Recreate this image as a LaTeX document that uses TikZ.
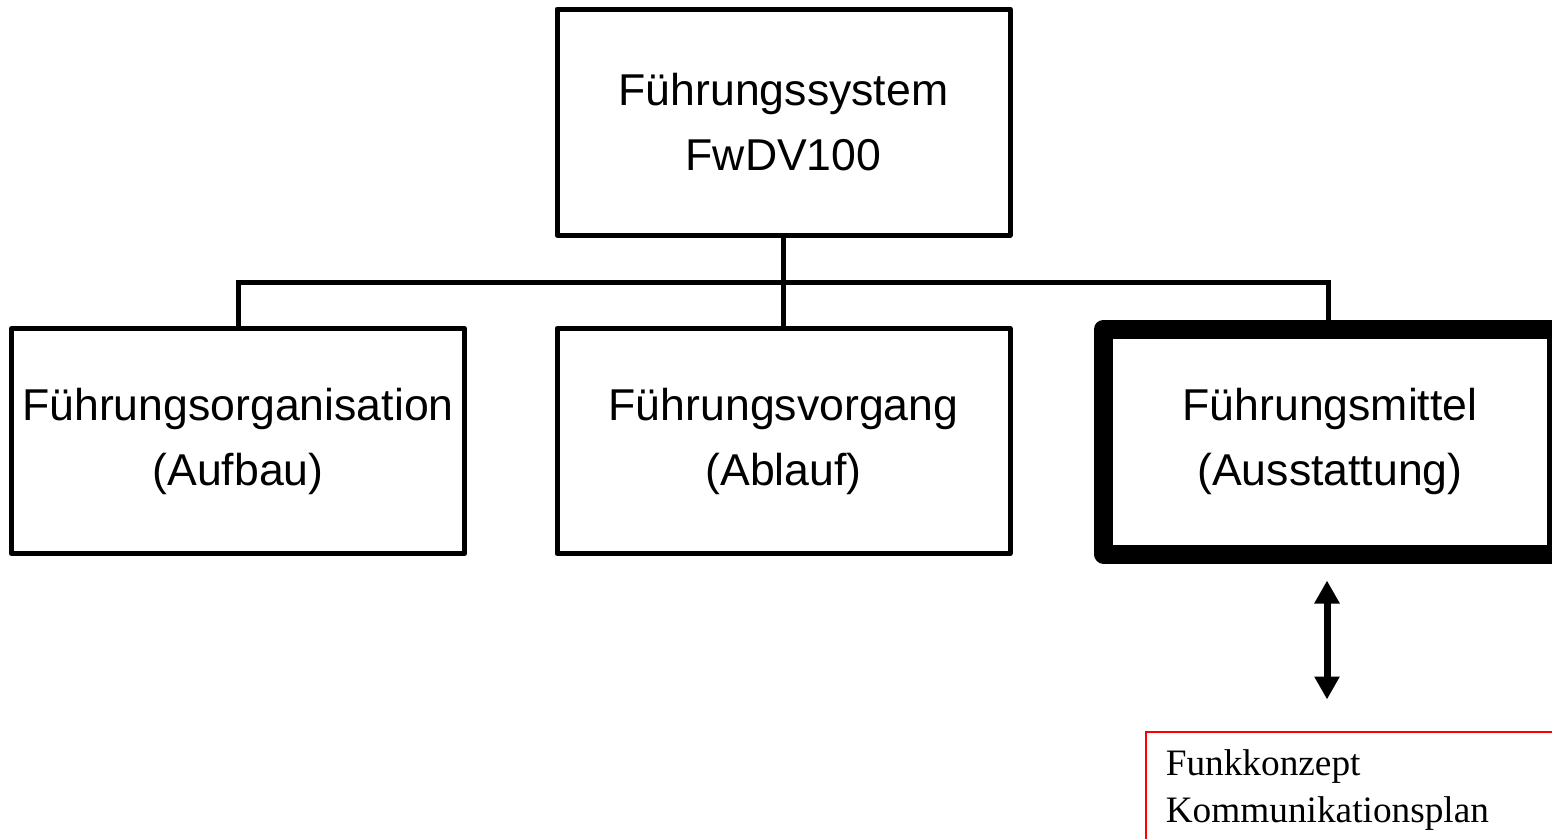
\documentclass[tikz,border=0pt]{standalone}
\usepackage{fontspec}
\setmainfont{Liberation Sans}
\newfontfamily\plainserif{Liberation Serif}
\usetikzlibrary{arrows.meta}

\tikzset{
  unit/.style={draw=black, line width=5pt, line join=round, rectangle,
    minimum width=453pt, minimum height=225pt, inner sep=0pt,
    align=center, font=\fontsize{44.6}{65}\selectfont},
  focus/.style={unit, line width=19pt},
  link/.style={line width=5pt, line cap=rect},
  twoway/.style={line width=7pt, {Triangle[length=23pt,width=24pt]}-{Triangle[length=23pt,width=24pt]}},
  notebox/.style={draw=red, line width=1.5pt, rectangle, anchor=north west,
    text width=400pt, align=left, inner xsep=20pt, inner ysep=17.5pt,
    font=\plainserif\fontsize{37.3}{47}\selectfont},
}

\begin{document}
\begin{tikzpicture}[x=1pt, y=1pt]
  \useasboundingbox (0,0) rectangle (1552,-838);

  % top level
  \node[unit, minimum height=226pt] (sys) at (783.5,-122) {Führungssystem\\FwDV100};

  % second level
  \node[unit] (org) at (238,-441) {Führungsorganisation\\(Aufbau)};
  \node[unit] (proc) at (783.5,-441) {Führungsvorgang\\(Ablauf)};
  \node[focus] (means) at (1330,-441.5) {Führungsmittel\\(Ausstattung)};

  % tree connectors
  \coordinate (bar) at (783.5,-282);
  \draw[link] (sys.south) -- (proc.north);
  \draw[link] (org.north) |- (bar) -| ([xshift=-2pt]means.north);

  % detail box
  \node[notebox] (plan) at (1145,-731) {Funkkonzept\\Kommunikationsplan};

  % relation between equipment and detail box
  \draw[twoway] ([xshift=-3pt,yshift=-17pt]means.south) -- ([xshift=-3pt,yshift=-136pt]means.south);
\end{tikzpicture}
\end{document}
